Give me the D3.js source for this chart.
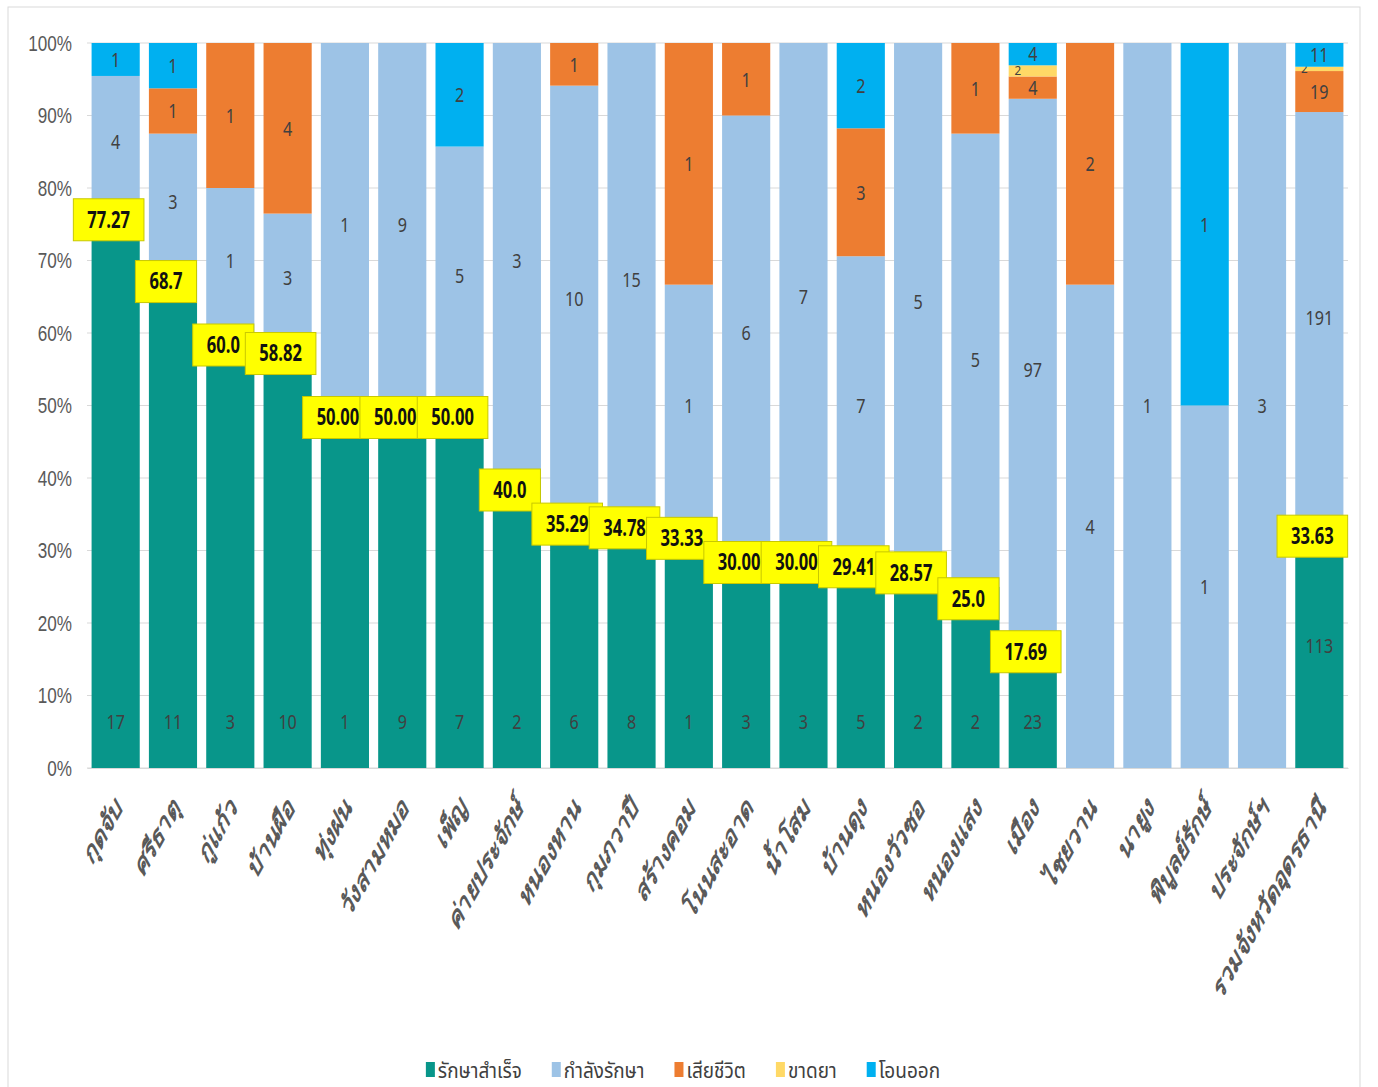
<!DOCTYPE html>
<html>
<head>
<meta charset="utf-8">
<script src="https://cdn.jsdelivr.net/npm/d3@7"></script>
<style>
    body { margin: 0; background: #fff; }
    svg { font-family: "Noto Sans Thai", Tahoma, "DejaVu Sans", sans-serif; }
</style>
</head>
<body>
<svg id="chart"></svg>
<script>
// districts (bars) and counts per status
const districts = ['กุดจับ', 'ศรีธาตุ', 'กู่แก้ว', 'บ้านผือ', 'ทุ่งฝน', 'วังสามหมอ', 'เพ็ญ', 'ค่ายประจักษ์',
    'หนองหาน', 'กุมภวาปี', 'สร้างคอม', 'โนนสะอาด', 'น้ำโสม', 'บ้านดุง', 'หนองวัวซอ', 'หนองแสง',
    'เมือง', 'ไชยวาน', 'นายูง', 'พิบูลย์รักษ์', 'ประจักษ์ฯ', 'รวมจังหวัดอุดรธานี']
const success     = [17, 11, 3, 10, 1, 9, 7, 2, 6, 8, 1, 3, 3, 5, 2, 2, 23, 0, 0, 0, 0, 113]
const treating    = [4, 3, 1, 3, 1, 9, 5, 3, 10, 15, 1, 6, 7, 7, 5, 5, 97, 4, 1, 1, 3, 191]
const died        = [0, 1, 1, 4, 0, 0, 0, 0, 1, 0, 1, 1, 0, 3, 0, 1, 4, 2, 0, 0, 0, 19]
const defaulted   = [0, 0, 0, 0, 0, 0, 0, 0, 0, 0, 0, 0, 0, 0, 0, 0, 2, 0, 0, 0, 0, 2]
const transferred = [1, 1, 0, 0, 0, 0, 2, 0, 0, 0, 0, 0, 0, 2, 0, 0, 4, 0, 0, 1, 0, 11]
// success rate labels as printed (null = no label)
const pctLabels = ['77.27', '68.7', '60.0', '58.82', '50.00', '50.00', '50.00', '40.0', '35.29', '34.78',
    '33.33', '30.00', '30.00', '29.41', '28.57', '25.0', '17.69', null, null, null, null, '33.63']
const seriesKeys  = ['success', 'treating', 'died', 'defaulted', 'transferred']
const seriesNames = ['รักษาสำเร็จ', 'กำลังรักษา', 'เสียชีวิต', 'ขาดยา', 'โอนออก']
const seriesColors = ['#08968a', '#9dc3e6', '#ed7d31', '#ffd966', '#00b0f0']
const yTicks = [0, 0.1, 0.2, 0.3, 0.4, 0.5, 0.6, 0.7, 0.8, 0.9, 1]

const W = 1378, H = 1087
const margin = { top: 43, right: 30, bottom: 319, left: 87 }
const width = W - margin.left - margin.right
const height = H - margin.top - margin.bottom
// the picture is stretched vertically, so text is too
const stretch = 'scale(0.95, 1.22)'

const svg = d3.select('#chart').attr('width', W).attr('height', H)

// outer frame
svg.append('rect')
    .attr('x', 8).attr('y', 7)
    .attr('width', 1352).attr('height', H)
    .attr('fill', 'none').attr('stroke', '#d9d9d9')

const chart = svg.append('g').attr('transform', `translate(${margin.left}, ${margin.top})`)

const table = districts.map((d, i) => ({
    district: d,
    success: success[i], treating: treating[i], died: died[i],
    defaulted: defaulted[i], transferred: transferred[i]
}))

const stacked = d3.stack().keys(seriesKeys).offset(d3.stackOffsetExpand)(table)

const xScale = d3.scaleBand().domain(districts).range([0, width]).paddingInner(0.16).paddingOuter(0.08)
const yScale = d3.scaleLinear().domain([0, 1]).range([height, 0])
const xMid = d => xScale(d) + xScale.bandwidth() / 2
const segH = d => yScale(d[0]) - yScale(d[1])

// gridlines
chart.append('g')
    .selectAll('line')
    .data(yTicks)
    .join('line')
        .attr('x1', 0).attr('x2', width)
        .attr('y1', d => yScale(d)).attr('y2', d => yScale(d))
        .attr('stroke', '#d9d9d9')

// bars
const layers = chart.selectAll('.layer')
    .data(stacked)
    .join('g')
        .attr('class', 'layer')
        .attr('fill', (d, i) => seriesColors[i])

layers.selectAll('rect')
    .data(d => d)
    .join('rect')
        .attr('x', d => xScale(d.data.district))
        .attr('width', xScale.bandwidth())
        .attr('y', d => yScale(d[1]))
        .attr('height', d => segH(d))

// count labels
layers.each(function(layer, li) {
    d3.select(this).selectAll('text')
        .data(layer.filter(d => d.data[layer.key] > 0))
        .join('text')
            .attr('transform', d => {
                let x = xMid(d.data.district)
                let y = (yScale(d[0]) + yScale(d[1])) / 2
                if (li === 0 && d.data.district !== districts[districts.length - 1]) y = height - 46
                const small = segH(d) < 16
                if (segH(d) < 12) x -= 15
                return `translate(${x}, ${y}) ` + (small ? 'scale(0.9, 1)' : stretch)
            })
            .attr('dy', '0.35em')
            .attr('text-anchor', 'middle')
            .attr('fill', '#404040')
            .style('font-size', d => segH(d) < 16 ? '13px' : '17px')
            .text(d => d.data[layer.key])
})

// x axis
const xAxisGroup = chart.append('g')
    .attr('transform', `translate(0, ${height})`)
    .call(d3.axisBottom(xScale).tickSize(0))
xAxisGroup.select('.domain').attr('stroke', '#d9d9d9')
xAxisGroup.selectAll('text')
    .attr('text-anchor', 'end')
    .attr('dy', '0.3em')
    .attr('y', 0)
    .attr('transform', 'translate(4, 34) scale(0.95, 1.72) rotate(-45)')
    .style('font-size', '19px')
    .style('font-weight', 'bold')
    .attr('fill', '#595959')

// y axis
const yAxisGroup = chart.append('g')
    .call(d3.axisLeft(yScale).tickValues(yTicks).tickFormat(d3.format('.0%')).tickSize(0).tickPadding(0))
yAxisGroup.select('.domain').remove()
yAxisGroup.selectAll('.tick text')
    .attr('x', null)
    .attr('transform', 'translate(-15, 0) ' + stretch)
    .attr('fill', '#595959')
    .style('font-size', '18px')

// success rate boxes
const pctGroups = chart.selectAll('.pct')
    .data(stacked[0].filter((d, i) => pctLabels[i] !== null))
    .join('g')
        .attr('class', 'pct')
        .attr('transform', d => `translate(${xMid(d.data.district) - 7}, ${yScale(d[1]) + 12})`)

pctGroups.append('rect')
pctGroups.append('text')
    .attr('text-anchor', 'middle')
    .attr('dy', '0.35em')
    .attr('transform', 'scale(0.92, 1.25)')
    .style('font-size', '18px')
    .style('font-weight', 'bold')
    .attr('fill', '#111')
    .text(d => pctLabels[districts.indexOf(d.data.district)])

pctGroups.each(function() {
    const g = d3.select(this)
    const tw = g.select('text').node().getComputedTextLength() * 0.92
    g.select('rect')
        .attr('x', -tw / 2 - 14).attr('y', -21)
        .attr('width', tw + 28).attr('height', 42)
        .attr('fill', '#ffff00')
        .attr('stroke', '#c8c800').attr('stroke-width', 1)
})

// legend
const legend = svg.append('g').attr('transform', `translate(0, ${H - 16})`)
const items = legend.selectAll('g')
    .data(seriesNames)
    .join('g')
items.append('rect')
    .attr('width', 9).attr('height', 15).attr('y', -9)
    .attr('fill', (d, i) => seriesColors[i])
items.append('text')
    .attr('dy', '0.3em')
    .attr('transform', 'translate(12, 0) scale(1, 1.15)')
    .attr('fill', '#404040')
    .style('font-size', '19px')
    .text(d => d)

const widths = []
items.each(function() { widths.push(this.getBBox().width + 12) })
const gap = 18
let lx = (W - d3.sum(widths) - gap * (widths.length - 1)) / 2
items.attr('transform', (d, i) => {
    const t = `translate(${lx}, 0)`
    lx += widths[i] + gap
    return t
})
</script>
</body>
</html>
